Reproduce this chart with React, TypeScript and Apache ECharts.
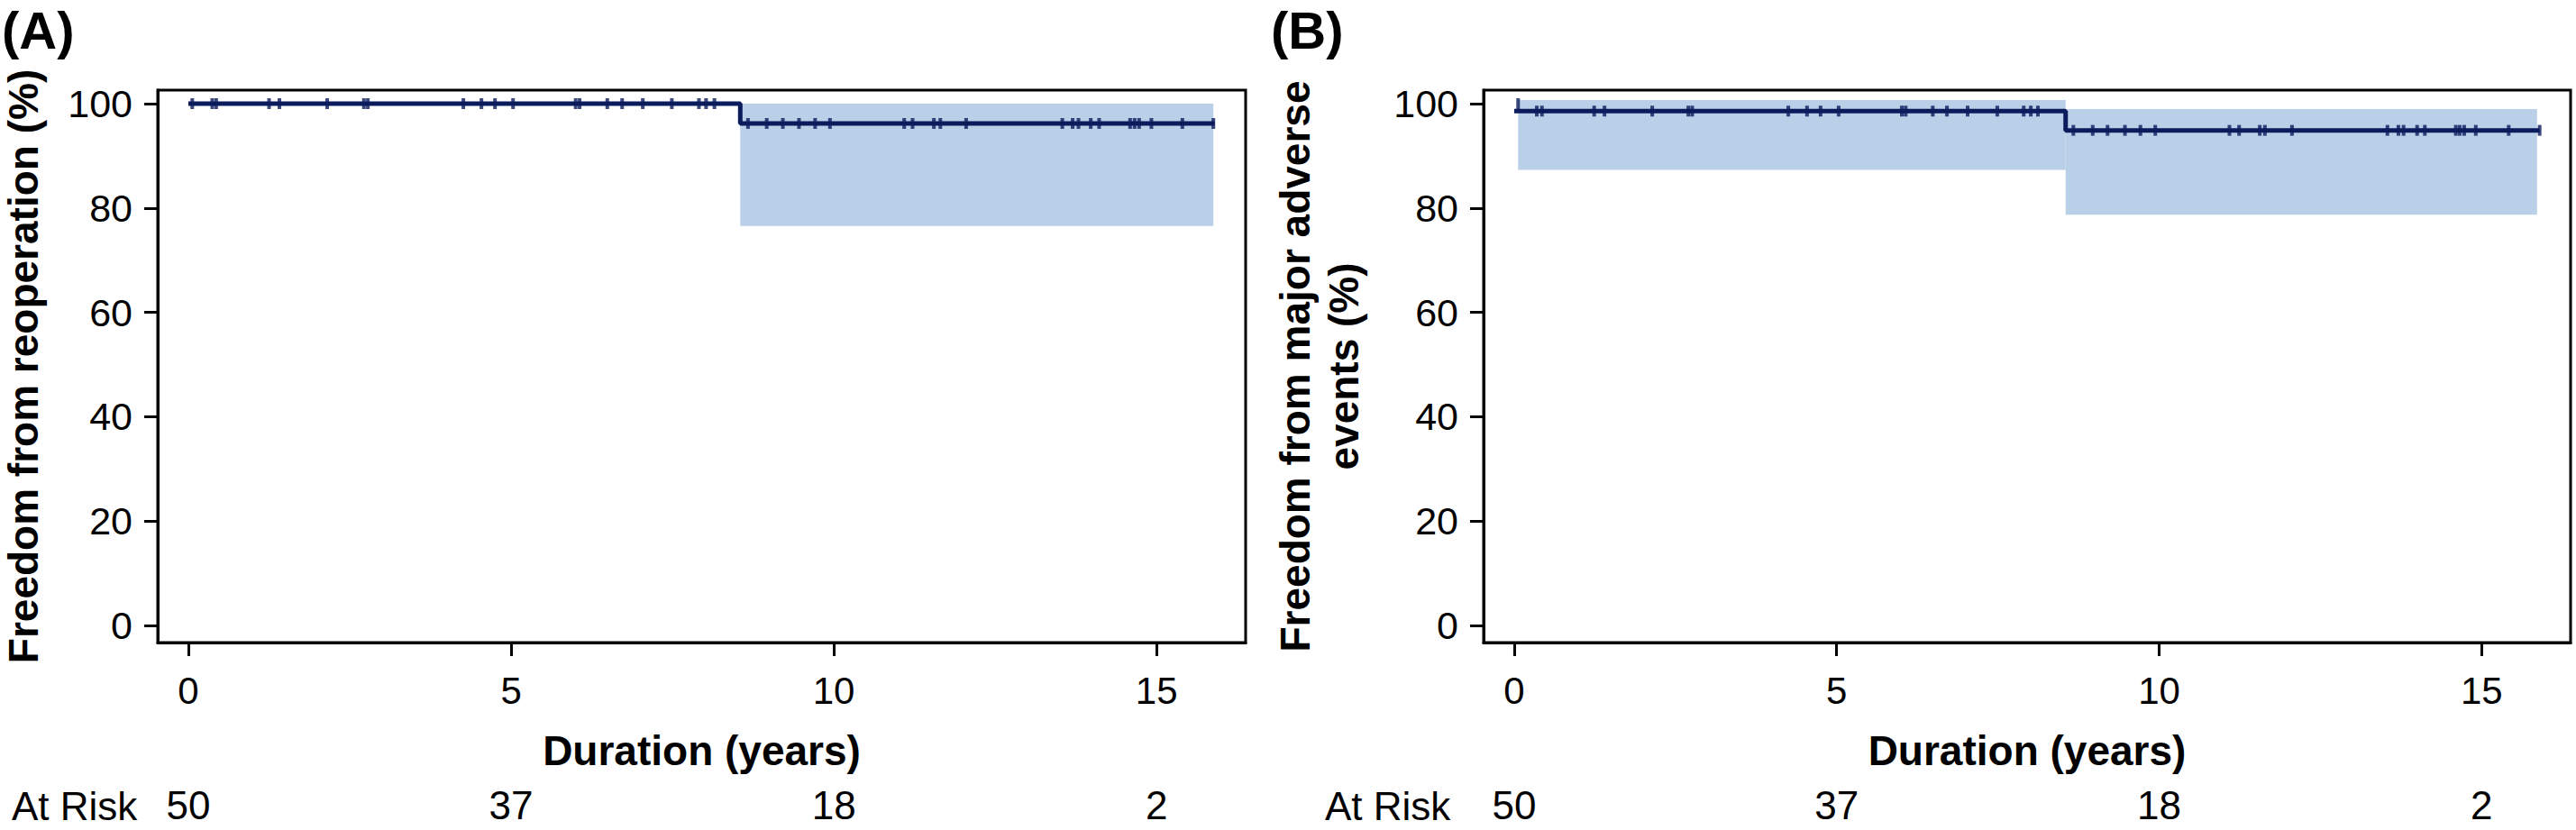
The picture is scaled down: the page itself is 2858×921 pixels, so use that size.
import React, { useEffect, useRef } from "react";
import * as echarts from "echarts";

// ---- data ----
const xTicks = [0, 5, 10, 15];
const yTicks = [0, 20, 40, 60, 80, 100];
const atRiskA = ["50", "37", "18", "2"];
const atRiskB = ["50", "37", "18", "2"];

// Kaplan-Meier step curves (time, survival %)
const stepTimesA = [0, 8.55, 15.9];
const survA = [100, 96.2, 96.2];
const stepTimesB = [0, 8.55, 15.9];
const survB = [98.57, 94.88, 94.88];

// confidence bands [start, end, lower, upper]
const bandA = [[8.55, 15.88, 76.55, 100]];
const bandB = [
  [0.06, 8.55, 87.3, 100.7],
  [8.55, 15.86, 78.7, 98.97],
];

// censoring times
const censorTimesA = [
  0.06, 0.37, 0.43, 1.25, 1.41, 2.15, 2.72, 2.78, 4.26, 4.54, 4.75, 5.03, 6.0, 6.06, 6.49,
  6.72, 7.04, 7.49, 7.91, 8.02, 8.15, 8.67, 8.96, 9.21, 9.46, 9.71, 9.94, 11.09, 11.22,
  11.55, 11.65, 12.05, 13.54, 13.7, 13.79, 13.98, 14.11, 14.59, 14.66, 14.73, 14.92, 15.4,
  15.88,
];
const censorTimesB = [
  0.35, 0.43, 1.24, 1.4, 2.14, 2.7, 2.76, 4.25, 4.54, 4.75, 5.03, 6.01, 6.07, 6.49, 6.71,
  7.03, 7.49, 7.9, 8.01, 8.12, 8.67, 8.97, 9.2, 9.47, 9.71, 9.94, 11.09, 11.24, 11.56,
  11.64, 12.06, 13.54, 13.71, 13.79, 14.0, 14.12, 14.6, 14.66, 14.73, 14.91, 15.42, 15.9,
];
const startMarkB = [[0.06, 100]];

const NAVY = "#0b1c5c";
const BAND = "#bacfe8";
const FONT = "Liberation Sans, Arial, Helvetica, sans-serif";

function survAt(times: number[], surv: number[], t: number) {
  let v = surv[0];
  for (let i = 0; i < times.length; i++) if (t >= times[i]) v = surv[i];
  return v;
}

const X_MIN = -0.475;
const X_MAX = 16.38;
const Y_MIN = -3.28;
const Y_MAX = 102.59;

function makeXAxis(gridIndex: number) {
  return {
    type: "value",
    gridIndex,
    min: X_MIN,
    max: X_MAX,
    position: "bottom",
    name: "Duration (years)",
    nameLocation: "middle",
    nameGap: 97,
    nameTextStyle: { fontFamily: FONT, fontSize: 46, fontWeight: "bold", color: "#000" },
    axisLine: { show: true, onZero: false, lineStyle: { color: "#000", width: 3 } },
    axisTick: {
      show: true,
      length: 15,
      customValues: xTicks,
      lineStyle: { color: "#000", width: 3 },
    },
    axisLabel: {
      customValues: xTicks,
      margin: 32,
      fontFamily: FONT,
      fontSize: 42,
      color: "#000",
    },
    splitLine: { show: false },
  };
}

function makeRiskAxis(gridIndex: number, risk: string[]) {
  return {
    type: "value",
    gridIndex,
    min: X_MIN,
    max: X_MAX,
    position: "bottom",
    offset: 0,
    axisLine: { show: false, onZero: false },
    axisTick: { show: false },
    axisLabel: {
      customValues: xTicks,
      margin: 161,
      fontFamily: FONT,
      fontSize: 44,
      lineHeight: 38,
      color: "#000",
      formatter: (v: number) => risk[xTicks.indexOf(v)] ?? "",
    },
    splitLine: { show: false },
  };
}

function makeYAxis(gridIndex: number, name: string, nameGap: number, lineHeight: number) {
  return {
    type: "value",
    gridIndex,
    min: Y_MIN,
    max: Y_MAX,
    name,
    nameLocation: "middle",
    nameRotate: 90,
    nameGap,
    nameTextStyle: {
      fontFamily: FONT,
      fontSize: 46,
      fontWeight: "bold",
      color: "#000",
      lineHeight,
      align: "center",
    },
    axisLine: { show: true, onZero: false, lineStyle: { color: "#000", width: 3 } },
    axisTick: {
      show: true,
      length: 15,
      customValues: yTicks,
      lineStyle: { color: "#000", width: 3 },
    },
    axisLabel: {
      customValues: yTicks,
      margin: 28,
      fontFamily: FONT,
      fontSize: 43,
      color: "#000",
    },
    splitLine: { show: false },
  };
}

function bandSeries(idx: number, data: number[][]) {
  return {
    type: "custom",
    xAxisIndex: idx,
    yAxisIndex: idx,
    z: 1,
    silent: true,
    encode: { x: [0, 1], y: [2, 3] },
    data,
    renderItem: (_params: any, api: any) => {
      const p0 = api.coord([api.value(0), api.value(3)]);
      const p1 = api.coord([api.value(1), api.value(2)]);
      return {
        type: "rect",
        shape: { x: p0[0], y: p0[1], width: p1[0] - p0[0], height: p1[1] - p0[1] },
        style: { fill: BAND },
      };
    },
  };
}

function stepSeries(idx: number, times: number[], surv: number[]) {
  return {
    type: "line",
    xAxisIndex: idx,
    yAxisIndex: idx,
    step: "end",
    z: 3,
    showSymbol: false,
    silent: true,
    data: times.map((t, i) => [t, surv[i]]),
    lineStyle: { color: NAVY, width: 5 },
  };
}

function censorSeries(idx: number, data: number[][]) {
  return {
    type: "scatter",
    xAxisIndex: idx,
    yAxisIndex: idx,
    z: 4,
    silent: true,
    symbol: "rect",
    symbolSize: [4, 12],
    itemStyle: { color: NAVY },
    data,
  };
}

export default function App() {
  const ref = useRef<HTMLDivElement>(null);
  useEffect(() => {
    document.body.style.margin = "0";
    if (!ref.current) return;
    const chart = echarts.init(ref.current, undefined, { renderer: "svg" });
    const censorA = censorTimesA.map((t) => [t, survAt(stepTimesA, survA, t)]);
    const censorB = startMarkB.concat(censorTimesB.map((t) => [t, survAt(stepTimesB, survB, t)]));
    const titleStyle = { fontFamily: FONT, fontSize: 58, fontWeight: "bold", fill: "#000", verticalAlign: "middle", lineHeight: 54 };
    const riskStyle = { fontFamily: FONT, fontSize: 44, fill: "#000", verticalAlign: "middle", lineHeight: 38 };
    chart.setOption({
      animation: false,
      backgroundColor: "#fff",
      grid: [
        { left: 175, top: 100, width: 1207, height: 613, show: true, borderColor: "#000", borderWidth: 3, containLabel: false },
        { left: 1646, top: 100, width: 1206, height: 613, show: true, borderColor: "#000", borderWidth: 3, containLabel: false },
      ],
      xAxis: [makeXAxis(0), makeXAxis(1), makeRiskAxis(0, atRiskA), makeRiskAxis(1, atRiskB)],
      yAxis: [
        makeYAxis(0, "Freedom from reoperation (%)", 128, 42),
        makeYAxis(1, "Freedom from major adverse\nevents (%)", 128, 54),
      ],
      graphic: [
        { type: "text", style: { ...titleStyle, text: "(A)", x: 2, y: 33 } },
        { type: "text", style: { ...titleStyle, text: "(B)", x: 1410, y: 33 } },
        { type: "text", style: { ...riskStyle, text: "At Risk", x: 13, y: 894 } },
        { type: "text", style: { ...riskStyle, text: "At Risk", x: 1470, y: 894 } },
      ],
      series: [
        bandSeries(0, bandA),
        stepSeries(0, stepTimesA, survA),
        censorSeries(0, censorA),
        bandSeries(1, bandB),
        stepSeries(1, stepTimesB, survB),
        censorSeries(1, censorB),
      ],
    });
    return () => chart.dispose();
  }, []);
  return <div ref={ref} style={{ position: "absolute", left: 0, top: 0, width: 2858, height: 921 }} />;
}
